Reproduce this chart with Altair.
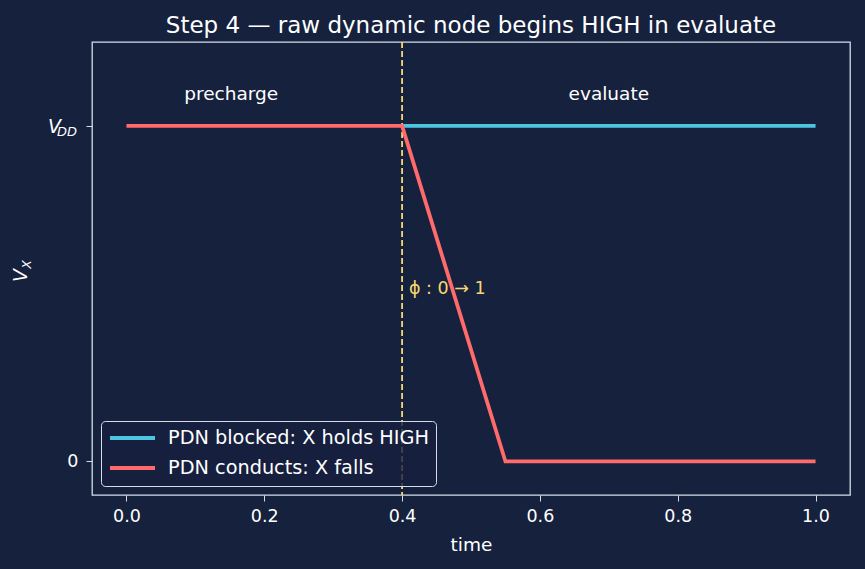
import altair as alt
import pandas as pd

BG = "#16213e"
AX = "#d6dde8"
BLUE = "#4cc6e0"
RED = "#ff6b6b"
YEL = "#f7d774"
FONT = "DejaVu Sans"

series_names = ["PDN blocked: X holds HIGH", "PDN conducts: X falls"]
blue_t = [0.4, 1.0]
blue_v = [1.0, 1.0]
red_t = [0.0, 0.4, 0.55, 1.0]
red_v = [1.0, 1.0, 0.0, 0.0]
switch_t = [0.4]
phase_labels = ["precharge", "evaluate"]
phase_t = [0.152, 0.70]
phase_v = [1.095, 1.095]
phi_label = ["ϕ : 0 → 1"]
phi_t = [0.41]
phi_v = [0.515]
y_ticks = [0, 1]
x_ticks = [0, 0.2, 0.4, 0.6, 0.8, 1.0]

rows = [{"t": t, "v": v, "s": series_names[0], "o": i} for i, (t, v) in enumerate(zip(blue_t, blue_v))]
rows += [{"t": t, "v": v, "s": series_names[1], "o": i} for i, (t, v) in enumerate(zip(red_t, red_v))]
df = pd.DataFrame(rows)

W, H = 758, 453
xs = alt.Scale(domain=[-0.05, 1.05], nice=False, zero=False)
ys = alt.Scale(domain=[-0.1, 1.25], nice=False, zero=False)

xax = alt.Axis(values=x_ticks, format=".1f", title="time", grid=False,
               domain=False, tickColor=AX, labelColor="white", titleColor="white",
               labelFontSize=17.5, titleFontSize=18.5, titleFontWeight="normal", tickSize=6,
               labelPadding=6, titlePadding=11, labelFont=FONT, titleFont=FONT)
yax = alt.Axis(values=y_ticks, labelExpr="datum.value == 1 ? '' : '0'", title=None, grid=False,
               domain=False, tickColor=AX, labelColor="white", labelFontSize=17.5, tickSize=6,
               labelPadding=8, labelFont=FONT)

lines = alt.Chart(df).mark_line(strokeWidth=3.8, clip=True).encode(
    x=alt.X("t:Q", scale=xs, axis=xax),
    y=alt.Y("v:Q", scale=ys, axis=yax),
    color=alt.Color("s:N", scale=alt.Scale(domain=series_names, range=[BLUE, RED]),
                    legend=alt.Legend(title=None, orient="bottom-left", offset=9,
                                      symbolType="stroke", symbolStrokeWidth=3.8, symbolSize=2025,
                                      labelColor="white", labelFontSize=19.3, labelFont=FONT,
                                      labelLimit=0, clipHeight=20,
                                      fillColor="rgba(22,33,62,0.8)", strokeColor=AX,
                                      cornerRadius=4, padding=7, rowPadding=9, labelOffset=11)),
    detail="s:N",
    order="o:Q",
)

vline = alt.Chart(pd.DataFrame({"t": switch_t})).mark_rule(
    color=YEL, strokeWidth=1.8, strokeDash=[6, 3]).encode(x=alt.X("t:Q", scale=xs))

phase = alt.Chart(pd.DataFrame({"t": phase_t, "v": phase_v, "lab": phase_labels})).mark_text(
    color="white", fontSize=18.5, font=FONT, align="center", baseline="middle").encode(
    x=alt.X("t:Q", scale=xs), y=alt.Y("v:Q", scale=ys), text="lab:N")

phi = alt.Chart(pd.DataFrame({"t": phi_t, "v": phi_v, "lab": phi_label})).mark_text(
    color=YEL, fontSize=17.5, font=FONT, align="left", baseline="middle").encode(
    x=alt.X("t:Q", scale=xs), y=alt.Y("v:Q", scale=ys), text="lab:N")

vdd_v = alt.Chart(pd.DataFrame({"v": [1.0], "lab": ["V"]})).mark_text(
    color="white", fontSize=19, font=FONT, fontStyle="italic", align="right",
    baseline="middle", dy=1, clip=False).encode(
    x=alt.value(-31), y=alt.Y("v:Q", scale=ys), text="lab:N")
vdd_dd = alt.Chart(pd.DataFrame({"v": [1.0], "lab": ["DD"]})).mark_text(
    color="white", fontSize=13, font=FONT, fontStyle="italic", align="left",
    baseline="middle", dy=6, clip=False).encode(
    x=alt.value(-35), y=alt.Y("v:Q", scale=ys), text="lab:N")

vt = alt.Chart(pd.DataFrame({"lab": ["V"]})).mark_text(
    color="white", fontSize=19, font=FONT, fontStyle="italic", angle=270,
    align="center", baseline="middle").encode(x=alt.value(-71), y=alt.value(H / 2 + 7), text="lab:N")
xt = alt.Chart(pd.DataFrame({"lab": ["X"]})).mark_text(
    color="white", fontSize=12.5, font=FONT, fontStyle="italic", angle=270,
    align="center", baseline="middle").encode(x=alt.value(-65), y=alt.value(H / 2 - 4), text="lab:N")

chart = alt.layer(vline, lines, phase, phi, vdd_v, vdd_dd, vt, xt).properties(
    width=W, height=H,
    title=alt.TitleParams("Step 4 — raw dynamic node begins HIGH in evaluate", color="white",
                          fontSize=23, font=FONT, fontWeight="normal", offset=3),
    background=BG,
    padding={"left": 92, "top": 42, "right": 15, "bottom": 74},
    autosize=alt.AutoSizeParams(type="none"),
).configure_view(stroke=AX, strokeWidth=1.3, fill=BG)

chart.save("out.html", embed_options={"renderer": "svg", "actions": False})
